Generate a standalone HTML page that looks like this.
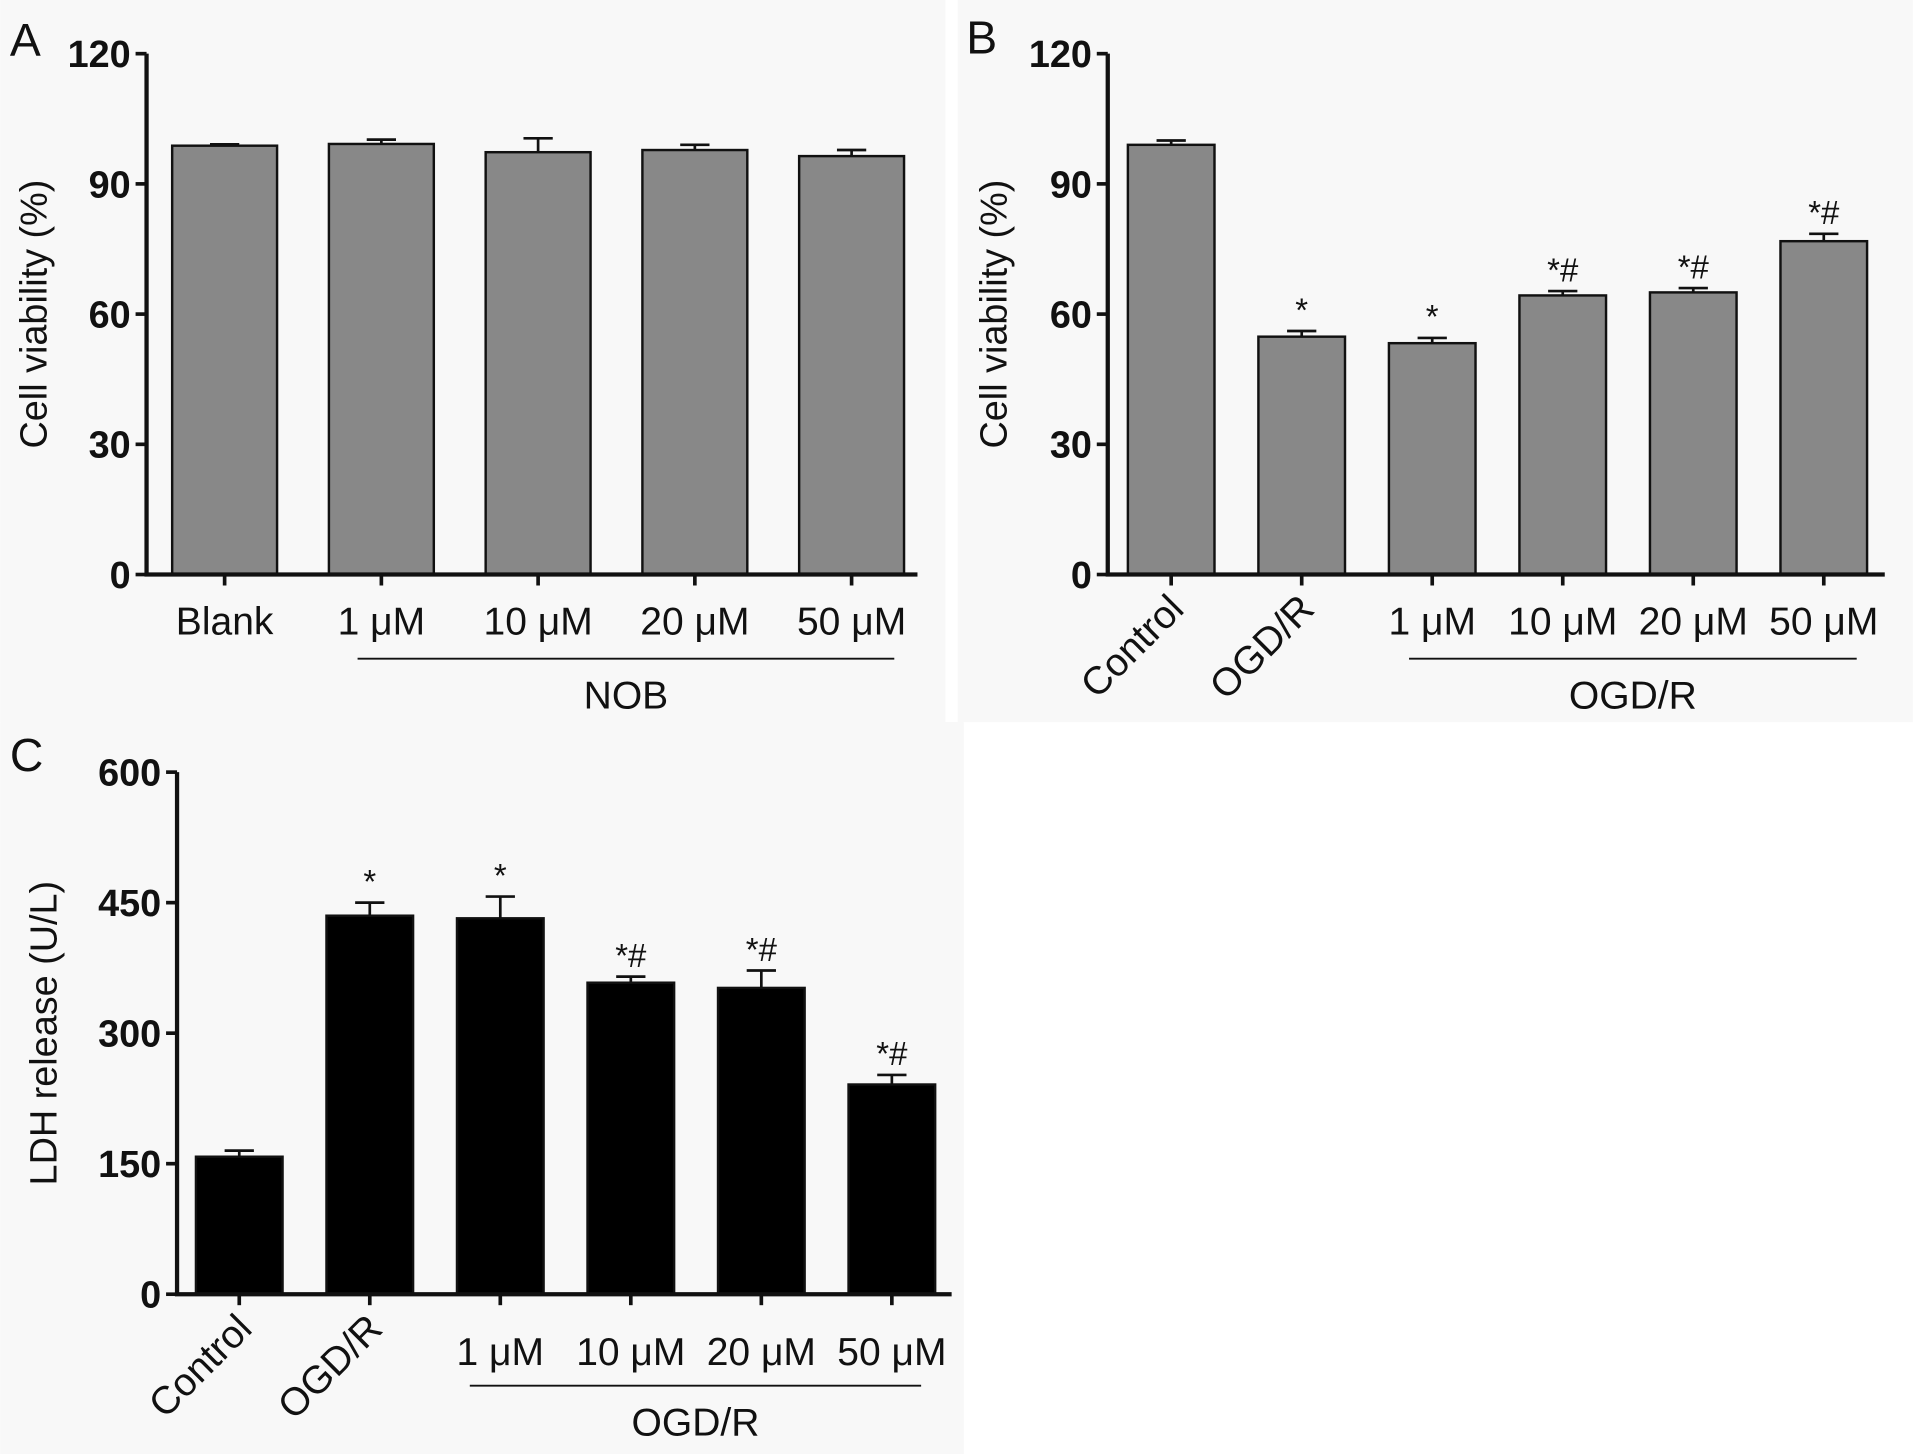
<!DOCTYPE html>
<html><head><meta charset="utf-8"><style>
html,body{margin:0;padding:0;background:#fff;}
svg{display:block;font-family:"Liberation Sans",Arial,sans-serif;}
</style></head><body>
<svg id="fig" width="1913" height="1454" viewBox="0 0 1568 1192" xmlns="http://www.w3.org/2000/svg">
<rect x="0" y="0" width="1568" height="1192" fill="#fff"/>
<rect x="0" y="0" width="775" height="592" fill="#f8f8f8"/>
<rect x="785" y="0" width="783" height="592" fill="#f8f8f8"/>
<rect x="0" y="592" width="790" height="600" fill="#f8f8f8"/>
<g id="root"></g>
</svg>
<script>
// Panel A data
const catsA = ["Blank","1 μM","10 μM","20 μM","50 μM"];
const valsA = [98.8, 99.2, 97.3, 97.8, 96.4];
const errA = [0.3, 1.0, 3.2, 1.2, 1.4];
const ticksA = [0,30,60,90,120];
// Panel B data
const catsB = ["Control","OGD/R","1 μM","10 μM","20 μM","50 μM"];
const valsB = [99.0, 54.8, 53.3, 64.3, 65.0, 76.8];
const errB = [1.0, 1.3, 1.2, 1.0, 1.0, 1.7];
const sigB = ["","*","*","*#","*#","*#"];
const ticksB = [0,30,60,90,120];
// Panel C data
const catsC = ["Control","OGD/R","1 μM","10 μM","20 μM","50 μM"];
const valsC = [158, 435, 432, 358, 352, 241];
const errC = [7, 15, 25, 7, 20, 11];
const sigC = ["","*","*","*#","*#","*#"];
const ticksC = [0,150,300,450,600];

const NS="http://www.w3.org/2000/svg";
const root=document.getElementById('root');
function mk(tag,attrs,parent,txt){const e=document.createElementNS(NS,tag);for(const k in attrs)e.setAttribute(k,attrs[k]);if(txt!==undefined)e.textContent=txt;(parent||root).appendChild(e);return e;}

function panel(o){
  const g=mk('g',{});
  
  
  const y=v=>o.y0-(v/o.max)*(o.y0-o.yTop);
  const x=i=>o.c0+i*o.step;
  const L=mk('text',{x:o.letterX,y:o.letterY,'font-size':38,fill:'#111'},g,o.letter);
  
  
  const yt=mk('text',{x:0,y:0,'font-size':31,fill:'#111','text-anchor':'middle',transform:`translate(${o.titleX},${(o.y0+o.yTop)/2}) rotate(-90)`},g,o.ytitle);
  
  
  for(let i=0;i<o.vals.length;i++){
    const cx=x(i),top=y(o.vals[i]);
    const et=y(o.vals[i]+o.err[i]);
    const eb=mk('path',{d:`M${cx} ${top}V${et}M${cx-12} ${et}H${cx+12}`,stroke:'#111','stroke-width':2.2,fill:'none'},g);
    
    
    const b=mk('rect',{x:cx-o.bw/2,y:top,width:o.bw,height:o.y0-top,fill:o.fill,stroke:'#111','stroke-width':2},g);
    
    
    if(o.sig&&o.sig[i]){
      const s=mk('text',{x:cx,y:et-8,'font-size':27,'text-anchor':'middle',fill:'#111'},g,o.sig[i].split('').join(''));
      
      
    }
    const tk=mk('line',{x1:cx,x2:cx,y1:o.y0,y2:o.y0+9,stroke:'#111','stroke-width':3},g);
    
    
    let lab;
    if(o.rot&&i<2){
      lab=mk('text',{x:0,y:0,'font-size':32,'text-anchor':'end',fill:'#111',transform:`translate(${cx+12},${o.y0+30}) rotate(-45)`},g,o.cats[i]);
    } else {
      lab=mk('text',{x:cx,y:o.y0+o.labDy,'font-size':32,'text-anchor':'middle',fill:'#111'},g,o.cats[i]);
    }
    
    
  }
  const ax=mk('path',{d:`M${o.ax} ${o.yTop}V${o.y0}H${o.axEnd}`,stroke:'#111','stroke-width':3.5,fill:'none'},g);
  
  
  for(const t of o.ticks){
    const tl=mk('line',{x1:o.ax-9,x2:o.ax,y1:y(t),y2:y(t),stroke:'#111','stroke-width':3},g);
    
    
    const tt=mk('text',{x:o.ax-13,y:y(t)+11,'font-size':31,'font-weight':'bold','text-anchor':'end',fill:'#111'},g,String(t));
    
    
  }
  const gl=mk('line',{x1:o.gx1,x2:o.gx2,y1:o.y0+o.lineDy,y2:o.y0+o.lineDy,stroke:'#111','stroke-width':1.5},g);
  
  
  const gt=mk('text',{x:(o.gx1+o.gx2)/2,y:o.y0+o.lineDy+41,'font-size':32,'text-anchor':'middle',fill:'#111'},g,o.group);
  
  
}

panel({name:'panel-a',letter:'A',letterX:8,letterY:46,ytitle:'Cell viability (%)',titleX:38,
  cats:catsA,vals:valsA,err:errA,ticks:ticksA,max:120,y0:471,yTop:44,ax:120,axEnd:752,
  c0:184,step:128.5,bw:86,fill:'#888',rot:false,gx1:293,gx2:733,group:'NOB',labDy:49,lineDy:69});
panel({name:'panel-b',letter:'B',letterX:792,letterY:44,ytitle:'Cell viability (%)',titleX:825,
  cats:catsB,vals:valsB,err:errB,sig:sigB,ticks:ticksB,max:120,y0:471,yTop:44,ax:908,axEnd:1545,
  c0:960,step:107,bw:71,fill:'#888',rot:true,gx1:1155,gx2:1522,group:'OGD/R',labDy:49,lineDy:69});
panel({name:'panel-c',letter:'C',letterX:8,letterY:632,ytitle:'LDH release (U/L)',titleX:46,
  cats:catsC,vals:valsC,err:errC,sig:sigC,ticks:ticksC,max:600,y0:1061,yTop:633,ax:145,axEnd:780,
  c0:196,step:107,bw:71,fill:'#000',rot:true,gx1:385,gx2:755,group:'OGD/R',labDy:58,lineDy:75});
</script>
</body></html>
